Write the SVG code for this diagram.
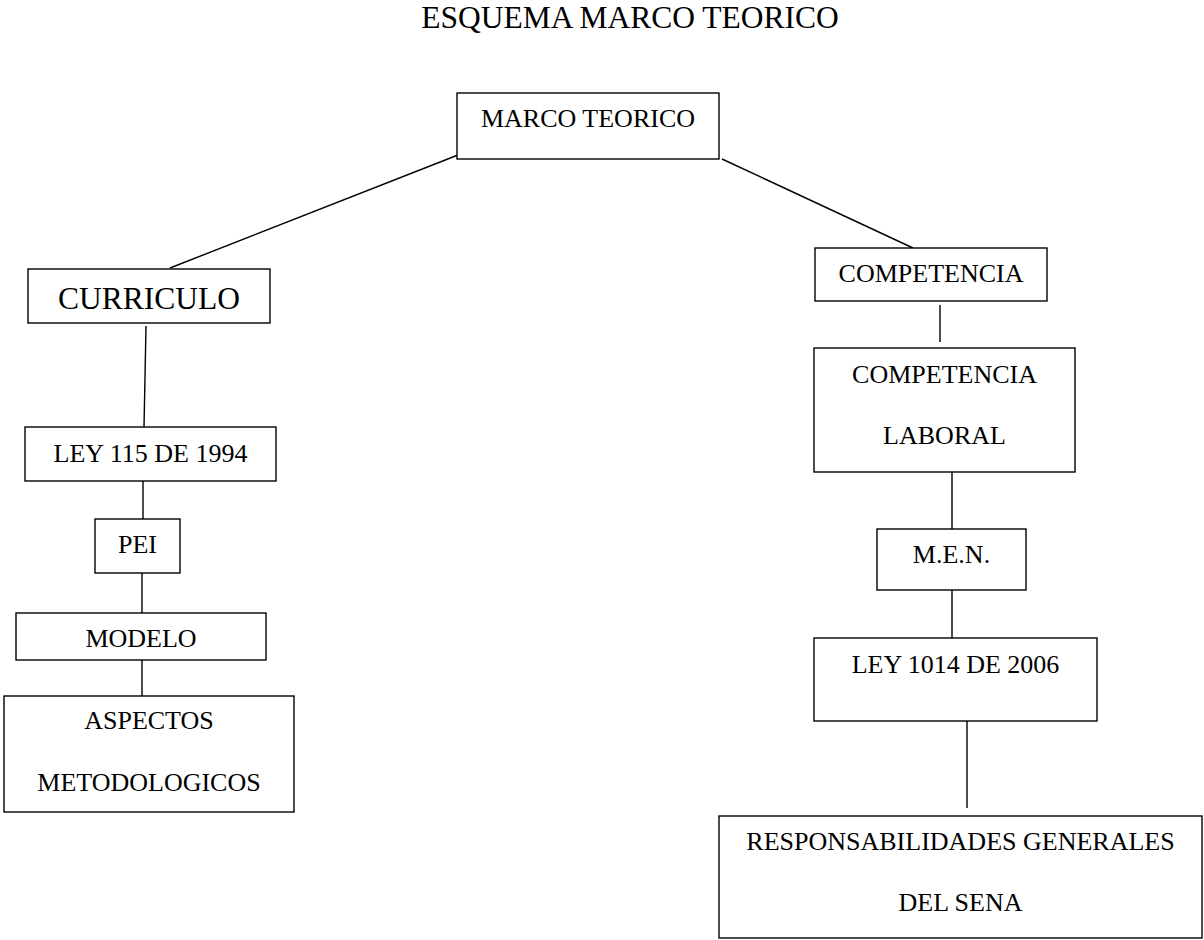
<svg xmlns="http://www.w3.org/2000/svg" width="1204" height="940" viewBox="0 0 1204 940">
<style>
rect.box{fill:#fff;stroke:#000;stroke-width:1.4}
text{font-family:"Liberation Serif","Times New Roman",serif;font-size:26px;fill:#000;text-anchor:middle}
.big{font-size:31.5px}
#connectors line{stroke:#000;stroke-width:1.4}
</style>
<rect width="1204" height="940" fill="#fff"/>
<text class="big" x="630" y="28">ESQUEMA MARCO TEORICO</text>
<g id="connectors">
<line x1="458" y1="155" x2="170" y2="268"/>
<line x1="722" y1="159" x2="913" y2="248"/>
<line x1="146" y1="326" x2="144" y2="427"/>
<line x1="143" y1="481" x2="143" y2="519"/>
<line x1="142" y1="573" x2="142" y2="613"/>
<line x1="142" y1="660" x2="142" y2="696"/>
<line x1="940" y1="305" x2="940" y2="342"/>
<line x1="952" y1="472" x2="952" y2="529"/>
<line x1="952" y1="590" x2="952" y2="638"/>
<line x1="967" y1="721" x2="967" y2="808"/>
</g>
<g id="marco">
<rect class="box" x="457" y="93" width="262" height="66"/>
<text x="588" y="127">MARCO TEORICO</text>
</g>
<g id="curriculo">
<rect class="box" x="28" y="269" width="242" height="54"/>
<text class="big" x="149" y="309">CURRICULO</text>
</g>
<g id="ley115">
<rect class="box" x="25" y="427" width="251" height="54"/>
<text x="150.5" y="462">LEY 115 DE 1994</text>
</g>
<g id="pei">
<rect class="box" x="95" y="519" width="85" height="54"/>
<text x="137.5" y="553">PEI</text>
</g>
<g id="modelo">
<rect class="box" x="16" y="613" width="250" height="47"/>
<text x="141" y="647">MODELO</text>
</g>
<g id="aspectos">
<rect class="box" x="4" y="696" width="290" height="116"/>
<text x="149" y="729">ASPECTOS</text>
<text x="149" y="791">METODOLOGICOS</text>
</g>
<g id="competencia">
<rect class="box" x="815" y="248" width="232" height="53"/>
<text x="931" y="282">COMPETENCIA</text>
</g>
<g id="competencia-laboral">
<rect class="box" x="814" y="348" width="261" height="124"/>
<text x="944.5" y="383">COMPETENCIA</text>
<text x="944.5" y="444">LABORAL</text>
</g>
<g id="men">
<rect class="box" x="877" y="529" width="149" height="61"/>
<text x="951.5" y="563">M.E.N.</text>
</g>
<g id="ley1014">
<rect class="box" x="814" y="638" width="283" height="83"/>
<text x="955.5" y="673">LEY 1014 DE 2006</text>
</g>
<g id="responsabilidades">
<rect class="box" x="719" y="816" width="483" height="122"/>
<text x="960.5" y="850">RESPONSABILIDADES GENERALES</text>
<text x="960.5" y="911">DEL SENA</text>
</g>
</svg>
